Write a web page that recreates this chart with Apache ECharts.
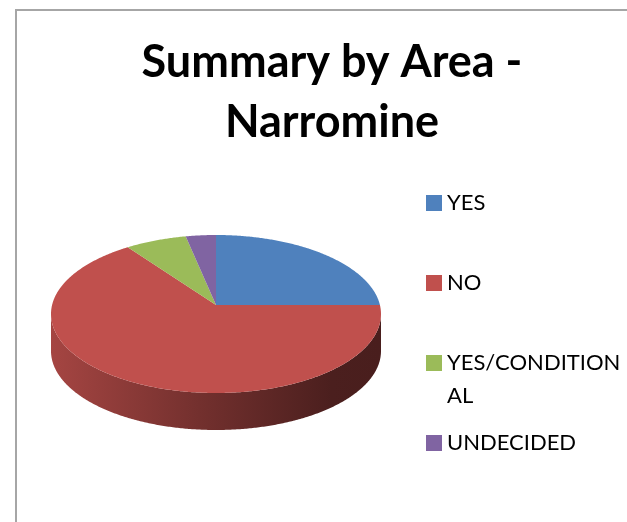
<!DOCTYPE html>
<html>
<head>
<meta charset="utf-8">
<style>
    html, body { margin: 0; padding: 0; background: #fff; }
    #pieChart { width: 627px; height: 522px; }
</style>
</head>
<body>
<div id="pieChart"></div>
<script src="https://cdn.jsdelivr.net/npm/echarts@6/dist/echarts.min.js"></script>
<script>
    const titleLines = ['Summary by Area -', 'Narromine']
    const categories = ['YES', 'NO', 'YES/CONDITIONAL', 'UNDECIDED']
    const values = [25, 65, 6.7, 3.3]
    const colors = ['#4F81BD', '#C0504D', '#9BBB59', '#8064A2']

    // the 3d look: ellipse of the top face, apex sits above its centre (perspective)
    const cx = 216, cy = 314, rx = 165, ry = 79, depth = 37
    const apexShift = 0.114
    const total = values.reduce((a, b) => a + b, 0)

    function edgePoint(deg) {
        const t = deg * Math.PI / 180
        const s = Math.sqrt(1 - apexShift * apexShift)
        const d = 1 + apexShift * Math.cos(t)
        return [cx + rx * s * Math.sin(t) / d, cy - ry * (Math.cos(t) + apexShift) / d]
    }

    function shade(hex, k) {
        const n = parseInt(hex.slice(1), 16)
        const c = [n >> 16, (n >> 8) & 255, n & 255].map(v => Math.round(v * k))
        return 'rgb(' + c.join(',') + ')'
    }

    function makeRender(index) {
        const before = values.slice(0, index).reduce((a, b) => a + b, 0)
        return function (params, api) {
            const start = before / total * 360
            const end = start + api.value(0) / total * 360
            const arc = []
            for (let a = start; a < end; a += 0.5) arc.push(edgePoint(a))
            arc.push(edgePoint(end))

            const children = []
            // only the part of the rim in front of the widest line is seen
            const front = arc.filter(p => p[1] >= cy)
            if (front.length > 1) {
                const lower = front.map(p => [p[0], p[1] + depth]).reverse()
                children.push({
                    type: 'polygon',
                    shape: { points: front.concat(lower) },
                    style: {
                        fill: new echarts.graphic.LinearGradient(0, 0, 1, 0, [
                            { offset: 0, color: shade(colors[index], 0.86) },
                            { offset: 0.45, color: shade(colors[index], 0.6) },
                            { offset: 0.85, color: shade(colors[index], 0.39) },
                            { offset: 1, color: shade(colors[index], 0.38) }
                        ], false)
                    }
                })
            }
            children.push({
                type: 'polygon',
                shape: { points: [[cx, cy - ry * apexShift]].concat(arc) },
                style: { fill: colors[index] }
            })
            return { type: 'group', children: children }
        }
    }

    const myChart = echarts.init(document.getElementById('pieChart'), null, { renderer: 'canvas' })
    myChart.setOption({
        backgroundColor: '#fff',
        animation: false,
        title: {
            text: titleLines.join('\n'),
            left: 327,
            top: 27,
            textAlign: 'center',
            textStyle: {
                color: '#000',
                fontFamily: 'Lato',
                fontWeight: 'bold',
                fontSize: 45,
                lineHeight: 60
            }
        },
        legend: {
            orient: 'vertical',
            left: 421,
            top: 187,
            icon: 'rect',
            itemWidth: 16,
            itemHeight: 16,
            itemGap: 58,
            selectedMode: false,
            data: categories,
            // 图例太窄，原图里这一项折成两行
            formatter: name => name === 'YES/CONDITIONAL' ? 'YES/CONDITION' : name,
            textStyle: { color: '#000', fontFamily: 'Lato', fontSize: 22 }
        },
        graphic: [
            {
                type: 'rect',
                silent: true,
                z: -1,
                shape: { x: 16, y: 10, width: 700, height: 600 },
                style: { fill: 'none', stroke: '#a6a6a6', lineWidth: 2 }
            },
            {
                type: 'text',
                silent: true,
                x: 447,
                y: 385,
                style: { text: 'AL', fill: '#000', fontFamily: 'Lato', fontSize: 22 }
            }
        ],
        series: categories.map((name, i) => ({
            name: name,
            type: 'custom',
            coordinateSystem: 'none',
            silent: true,
            itemStyle: { color: colors[i] },
            renderItem: makeRender(i),
            data: [[values[i]]]
        }))
    })
</script>
</body>
</html>
